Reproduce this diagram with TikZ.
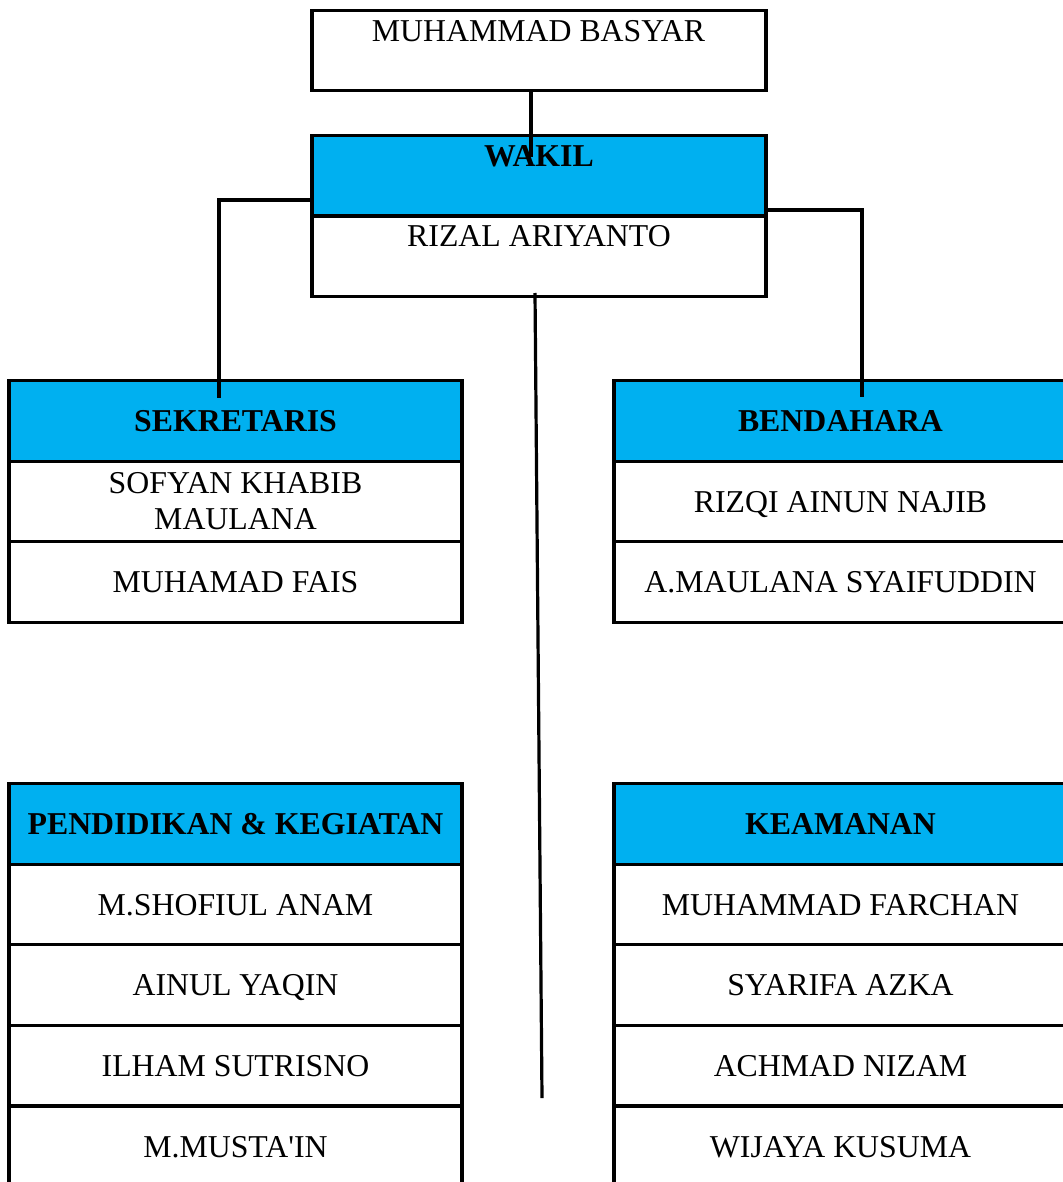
\documentclass[tikz,border=0pt]{standalone}
\usepackage{fontspec}
\setmainfont{Liberation Serif}
\newfontfamily\plainserif{Liberation Serif}
\definecolor{hdrblue}{HTML}{00B0F0}
\tikzset{
  box/.style={draw, line width=3.2pt, rectangle, inner sep=0pt, minimum width=453pt, minimum height=80.5pt, font=\fontsize{31.8}{36}\selectfont, align=center},
  hdr/.style={box, fill=hdrblue, font=\fontsize{31.8}{36}\selectfont\bfseries},
  one/.style={text height=21.5pt, text depth=0pt},
  conn/.style={line width=3.2pt},
  lbl/.style={anchor=base, inner sep=0pt, font=\fontsize{31.8}{36}\selectfont},
  lblb/.style={lbl, font=\fontsize{31.8}{36}\selectfont\bfseries}
}
\begin{document}
\begin{tikzpicture}[x=1pt,y=-1pt]
\useasboundingbox (0,0) rectangle (1062,1182);
% top
\node[box, minimum width=454pt] (ketua) at (539,50.5) {};
\node[lbl] (ketuat) at (538.5,42) {MUHAMMAD BASYAR};
\node[hdr, minimum width=454pt] (wakil) at (539,176) {};
\node[lblb] (wakilt) at (539,167) {WAKIL};
\node[box, minimum width=454pt] (wakilnm) at (539,256) {};
\node[lbl] (wakilnmt) at (539,247) {RIZAL ARIYANTO};
% sekretaris
\node[hdr, one] (sek) at (235.5,421) {SEKRETARIS};
\node[box] (sek1) at (235.5,501.5) {SOFYAN KHABIB\\MAULANA};
\node[box, one] (sek2) at (235.5,582) {MUHAMAD FAIS};
% bendahara
\node[hdr, one] (ben) at (840.5,421) {BENDAHARA};
\node[box, one] (ben1) at (840.5,501.5) {RIZQI AINUN NAJIB};
\node[box, one] (ben2) at (840.5,582) {A.MAULANA SYAIFUDDIN};
% pendidikan
\node[hdr, one] (pen) at (235.5,824) {PENDIDIKAN \& KEGIATAN};
\node[box, one] (pen1) at (235.5,904.5) {M.SHOFIUL ANAM};
\node[box, one] (pen2) at (235.5,985) {AINUL YAQIN};
\node[box, one] (pen3) at (235.5,1065.5) {ILHAM SUTRISNO};
\node[box, one] (pen4) at (235.5,1146.5) {M.MUSTA{\plainserif'}IN};
% keamanan
\node[hdr, one] (kea) at (840.5,824) {KEAMANAN};
\node[box, one] (kea1) at (840.5,904.5) {MUHAMMAD FARCHAN};
\node[box, one] (kea2) at (840.5,985) {SYARIFA AZKA};
\node[box, one] (kea3) at (840.5,1065.5) {ACHMAD NIZAM};
\node[box, one] (kea4) at (840.5,1146.5) {WIJAYA KUSUMA};
% connectors
\coordinate (c1) at (531,157);
\coordinate (c2) at (219,398);
\coordinate (c3) at (862,397);
\coordinate (c4) at (542,1098);
\draw[conn] (ketua.south -| c1) -- (c1);
\draw[conn] (wakil.west |- 0,200) -| (c2);
\draw[conn] (wakil.east |- 0,210) -| (c3);
\draw[conn] (535,293) -- (c4);
\end{tikzpicture}
\end{document}
